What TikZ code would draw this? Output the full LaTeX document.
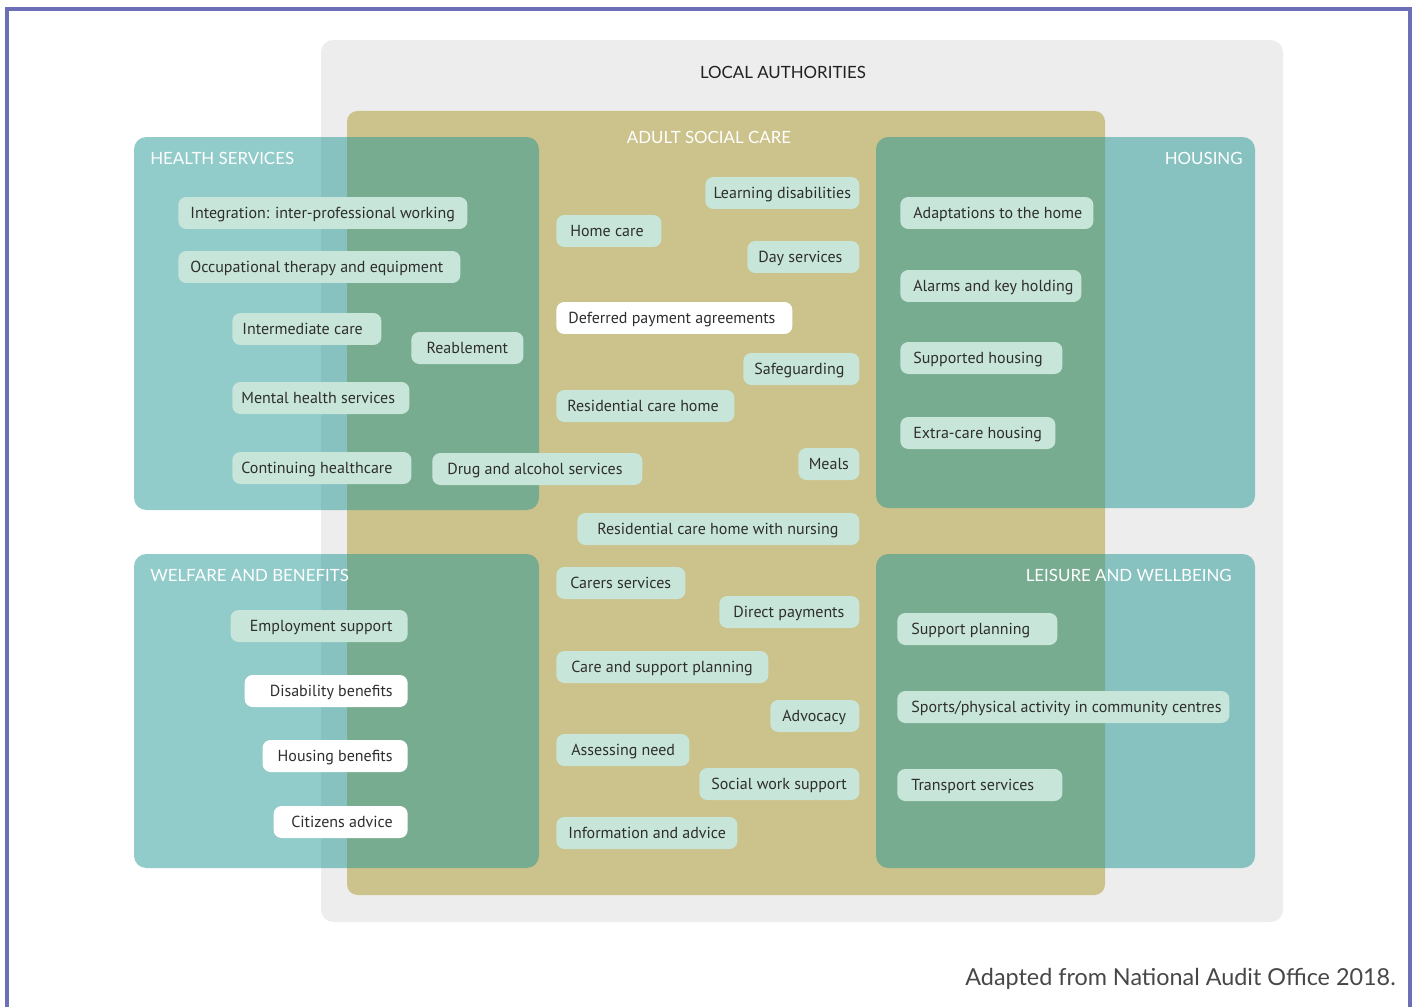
\documentclass[tikz,border=0pt]{standalone}
\usepackage{fontspec}
\setmainfont{Lato}
\newfontfamily\pillfont{PT Sans}
\usepackage{tikz}
\usetikzlibrary{positioning}
\usepackage{xcolor}
\definecolor{frameblue}{HTML}{6B70B6}
\definecolor{lagrey}{HTML}{EDEDED}
\definecolor{asctan}{HTML}{CCC28B}
\definecolor{tealbox}{RGB}{35,151,149}
\definecolor{pillgreen}{HTML}{C7E5D9}
\definecolor{darktext}{HTML}{2E2E2E}

% one pixel of the reference
\newlength\px \setlength\px{0.02cm}
\newcommand\padL[3]{\makebox[#1\px][l]{\hspace*{#2\px}#3}}
\newcommand\padR[3]{\makebox[#1\px][r]{#3\hspace*{#2\px}}}
\newcommand\padC[2]{\makebox[#1\px][c]{#2}}

\begin{document}
\begin{tikzpicture}[x=0.02cm, y=-0.02cm,
    areaTitle/.style={font=\fontsize{9.6}{11}\selectfont, text=white, inner sep=0pt},
    pill/.style={rectangle, rounded corners=4.5pt, fill=pillgreen, inner xsep=0pt, inner ysep=0pt,
        minimum height=0.64cm, text=darktext, font=\pillfont\fontsize{9.1}{10}\selectfont,
        text height=8.4pt, text depth=2.1pt},
    pillW/.style={pill, fill=white},
    tealArea/.style={fill=tealbox, fill opacity=0.5, rounded corners=7pt}
]
    \useasboundingbox (0,0) rectangle (1416,1007);

    % Cornice esterna
    \draw[frameblue, line width=1.8pt] (7,1012) -- (7,9) -- (1410,9) -- (1410,1012);

    % Aree
    \fill[lagrey, rounded corners=7pt] (321,40) rectangle (1283,922);
    \fill[asctan, rounded corners=6pt] (347,111) rectangle (1105,895);
    \fill[tealArea] (134,137) rectangle (539,510);
    \fill[tealArea] (876,137) rectangle (1255,508);
    \fill[tealArea] (134,554) rectangle (539,868);
    \fill[tealArea] (876,554) rectangle (1255,868);

    % Titoli
    \node[areaTitle, text=black!87, anchor=base] (la) at (783,79) {LOCAL AUTHORITIES};
    \node[areaTitle, anchor=base] (asc) at (709,143) {ADULT SOCIAL CARE};
    \node[areaTitle, anchor=base west] (health) at (150,164) {HEALTH SERVICES};
    \node[areaTitle, anchor=base east] (housing) at (1243,164) {HOUSING};
    \node[areaTitle, anchor=base west] (welfare) at (150,581) {WELFARE AND BENEFITS};
    \node[areaTitle, anchor=base east] (leisure) at (1232,581) {LEISURE AND WELLBEING};

    % Health services
    \node[pill, anchor=west] (integ) at (178,213) {\padL{289}{12}{Integration: inter-professional working}};
    \node[pill, anchor=west] (occup) at (178,267) {\padL{282}{12}{Occupational therapy and equipment}};
    \node[pill, anchor=west] (interm) at (232,329) {\padL{149}{10}{Intermediate care}};
    \node[pill, anchor=west] (reabl) at (411,348) {\padC{112}{Reablement}};
    \node[pill, anchor=west] (mental) at (232,398) {\padL{177}{9}{Mental health services}};
    \node[pill, anchor=west] (contin) at (232,468) {\padL{179}{9}{Continuing healthcare}};
    \node[pill, anchor=west] (drug) at (432,469) {\padL{210}{15}{Drug and alcohol services}};

    % Adult social care
    \node[pill, anchor=west] (learn) at (705,193) {\padC{154}{Learning disabilities}};
    \node[pill, anchor=west] (homec) at (556,231) {\padL{105}{14}{Home care}};
    \node[pill, anchor=west] (days) at (747,257) {\padL{112}{11}{Day services}};
    \node[pillW, anchor=west] (defer) at (556,318) {\padL{236}{12}{Deferred payment agreements}};
    \node[pill, anchor=west] (safeg) at (743,369) {\padL{116}{11}{Safeguarding}};
    \node[pill, anchor=west] (resid) at (556,406) {\padL{178}{11}{Residential care home}};
    \node[pill, anchor=west] (meals) at (798,464) {\padC{61}{Meals}};
    \node[pill, anchor=west] (nurs) at (577,529) {\padL{282}{20}{Residential care home with nursing}};
    \node[pill, anchor=west] (carers) at (556,583) {\padL{129}{14}{Carers services}};
    \node[pill, anchor=west] (direct) at (719,612) {\padL{140}{14}{Direct payments}};
    \node[pill, anchor=west] (caresp) at (556,667) {\padL{212}{15}{Care and support planning}};
    \node[pill, anchor=west] (advoc) at (770,716) {\padL{89}{12}{Advocacy}};
    \node[pill, anchor=west] (assess) at (556,750) {\padL{133}{15}{Assessing need}};
    \node[pill, anchor=west] (social) at (699,784) {\padL{160}{12}{Social work support}};
    \node[pill, anchor=west] (info) at (556,833) {\padL{181}{12}{Information and advice}};

    % Housing
    \node[pill, anchor=west] (adapt) at (900,213) {\padL{193}{13}{Adaptations to the home}};
    \node[pill, anchor=west] (alarms) at (900,286) {\padL{181}{13}{Alarms and key holding}};
    \node[pill, anchor=west] (suppH) at (900,358) {\padL{162}{13}{Supported housing}};
    \node[pill, anchor=west] (extra) at (900,433) {\padL{155}{13}{Extra-care housing}};

    % Welfare and benefits
    \node[pill, anchor=east] (employ) at (408,626) {\padR{177}{15}{Employment support}};
    \node[pillW, anchor=east] (disab) at (408,691) {\padR{163}{15}{Disability benefits}};
    \node[pillW, anchor=east] (housben) at (408,756) {\padR{145}{15}{Housing benefits}};
    \node[pillW, anchor=east] (citiz) at (408,822) {\padR{134}{15}{Citizens advice}};

    % Leisure and wellbeing
    \node[pill, anchor=west] (suppP) at (897,629) {\padL{160}{14}{Support planning}};
    \node[pill, anchor=west] (sports) at (897,707) {\padL{332}{14}{Sports/physical activity in community centres}};
    \node[pill, anchor=west] (transp) at (897,785) {\padL{165}{14}{Transport services}};

    % Fonte
    \node[anchor=base east, inner sep=0pt, font=\fontsize{13.3}{15}\selectfont, text=black!72] (source) at (1396,985) {Adapted from National Audit Office 2018.};
\end{tikzpicture}
\end{document}
